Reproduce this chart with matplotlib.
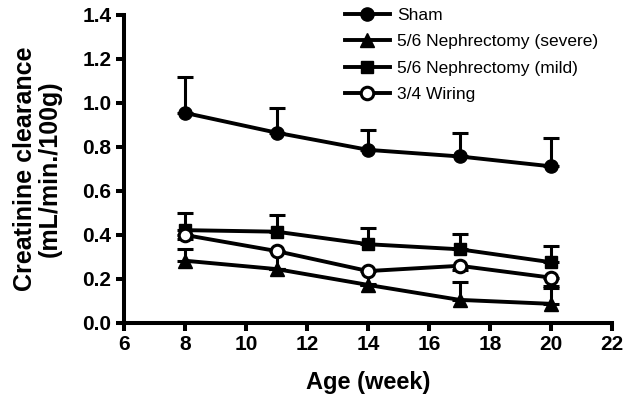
import matplotlib
matplotlib.use('Agg')
import matplotlib.pyplot as plt

plt.rcParams['font.family'] = ['Liberation Sans', 'DejaVu Sans']

# weeks
weeks = [8, 11, 14, 17, 20]

# creatinine clearance (mL/min./100g), mean and error bar length
sham = [0.955, 0.865, 0.787, 0.757, 0.712]
sham_err = [0.165, 0.112, 0.088, 0.107, 0.128]

severe = [0.283, 0.245, 0.173, 0.105, 0.087]
severe_err = [0.055, 0.0, 0.0, 0.083, 0.073]

mild = [0.422, 0.415, 0.358, 0.335, 0.276]
mild_err = [0.080, 0.075, 0.072, 0.070, 0.074]

wiring = [0.400, 0.327, 0.236, 0.260, 0.206]
wiring_err = [0.02, 0.08, 0.06, 0.02, 0.04]

series_labels = ['Sham', '5/6 Nephrectomy (severe)', '5/6 Nephrectomy (mild)', '3/4 Wiring']

fig = plt.figure(figsize=(6.26, 4.05), dpi=100)
ax = fig.add_axes([0.198, 0.2025, 0.780, 0.7605])

lw = 2.8
kw = dict(color='black', linewidth=lw, elinewidth=2.2, capsize=5.5, capthick=2.2)

# error bars drawn on one side only, as in the original
ax.errorbar(weeks, sham, yerr=[[0] * 5, sham_err], marker='o', markersize=9.5, label=series_labels[0], **kw)
ax.errorbar(weeks, severe, yerr=[[0] * 5, severe_err], marker='^', markersize=9.5, label=series_labels[1], **kw)
ax.errorbar(weeks, mild, yerr=[[0] * 5, mild_err], marker='s', markersize=8.5, label=series_labels[2], **kw)
ax.errorbar(weeks, wiring, yerr=[wiring_err, [0] * 5], marker='o', markersize=9, markerfacecolor='white',
            markeredgewidth=2.2, label=series_labels[3], **kw)

ax.set_xlim(6, 22)
ax.set_ylim(0, 1.4)
ax.set_xticks(range(6, 23, 2))
ax.set_yticks([0.0, 0.2, 0.4, 0.6, 0.8, 1.0, 1.2, 1.4])
ax.set_yticklabels(['0.0', '0.2', '0.4', '0.6', '0.8', '1.0', '1.2', '1.4'])

for s in ['top', 'right']:
    ax.spines[s].set_visible(False)
for s in ['left', 'bottom']:
    ax.spines[s].set_linewidth(2.9)
ax.tick_params(width=2.9, length=6, labelsize=15, pad=3)
for lab in ax.get_xticklabels() + ax.get_yticklabels():
    lab.set_fontweight('bold')

ax.set_xlabel('Age (week)', fontsize=17, fontweight='bold', labelpad=12)
ax.set_ylabel('Creatinine clearance\n(mL/min./100g)', fontsize=18, fontweight='bold', labelpad=15,
              linespacing=1.0)

handles, labels = ax.get_legend_handles_labels()
handles = [h[0] for h in handles]
ax.legend(handles, labels, loc='upper left', bbox_to_anchor=(0.42, 1.075), frameon=False,
          fontsize=12.5, handlelength=2.6, labelspacing=0.66, handletextpad=0.4)

fig.savefig('out.png', dpi=100)
